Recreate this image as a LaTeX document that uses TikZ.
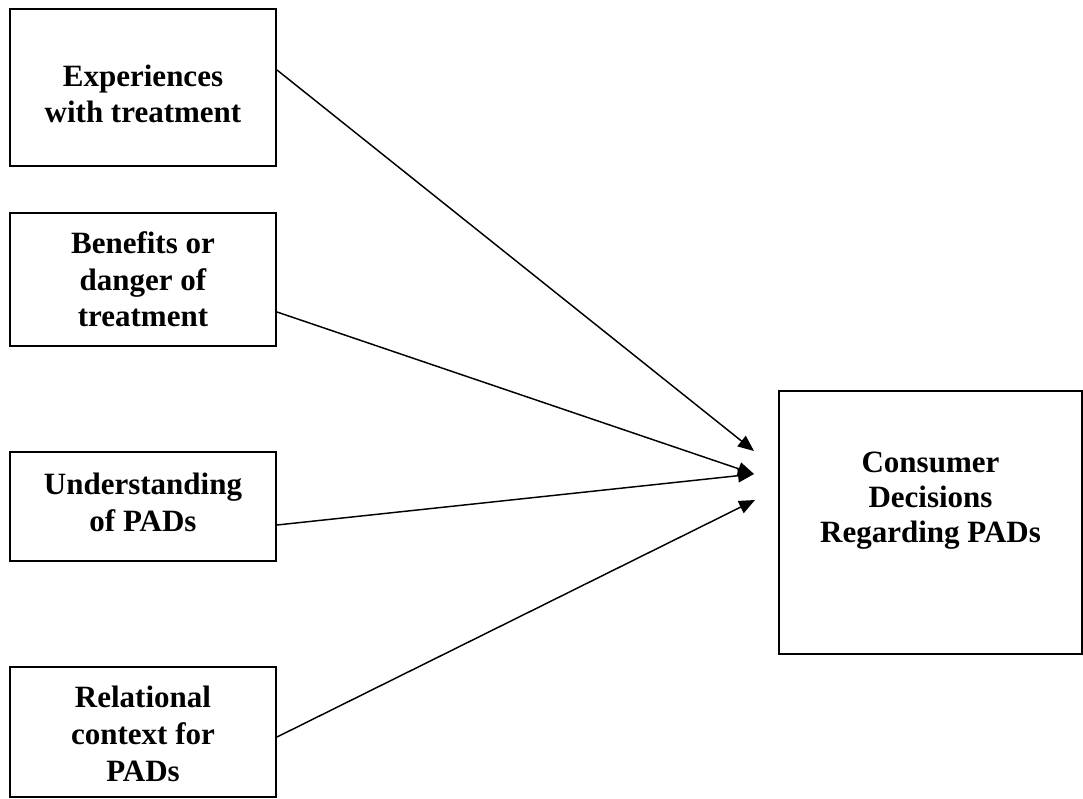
\documentclass[tikz,border=0pt]{standalone}
\usepackage{fontspec}
\setmainfont{Liberation Serif}
\usetikzlibrary{arrows.meta,calc}
\newdimen\px
\px=0.75pt
\begin{document}
\begin{tikzpicture}[x=0.75pt,y=-0.75pt,
  box/.style={draw=black,line width=1.5pt,align=center,inner sep=0pt,
    font=\fontsize{23.25pt}{27.5pt}\selectfont\bfseries},
  arr/.style={line width=1.1pt,-{Triangle[length=12pt,width=10pt]}}]
\useasboundingbox (0,0) rectangle (1083,799);
\node[box,minimum width=266\px,minimum height=157\px,
  label={[font=\fontsize{23.25pt}{27.5pt}\selectfont\bfseries,align=center,yshift=-6.5\px]center:Experiences\\with treatment}] (b1) at (143,87.5) {};
\node[box,minimum width=266\px,minimum height=133\px] (b2) at (143,279.5) {Benefits or\\danger of\\treatment};
\node[box,minimum width=266\px,minimum height=109\px,
  label={[font=\fontsize{23.25pt}{27.5pt}\selectfont\bfseries,align=center,yshift=4\px]center:Understanding\\of PADs}] (b3) at (143,506.5) {};
\node[box,minimum width=266\px,minimum height=130\px,
  label={[font=\fontsize{23.25pt}{27.5pt}\selectfont\bfseries,align=center,yshift=-2\px]center:Relational\\context for\\PADs}] (b4) at (143,732) {};
\node[box,minimum width=303\px,minimum height=263\px,
  label={[font=\fontsize{23.25pt}{26.5pt}\selectfont\bfseries,align=center,yshift=22\px]center:Consumer\\Decisions\\Regarding PADs}] (dec) at (930.5,522.5) {};
\coordinate (t1) at (754,451);
\coordinate (t2) at (754,474);
\coordinate (t3) at (755,500);
\draw[arr] ($(b1.east)+(0,-17.5)$) -- (t1);
\draw[arr] ($(b2.east)+(0,32.5)$) -- (t2);
\draw[arr] ($(b3.east)+(0,18.5)$) -- (t2);
\draw[arr] ($(b4.east)+(0,5)$) -- (t3);
\end{tikzpicture}
\end{document}
